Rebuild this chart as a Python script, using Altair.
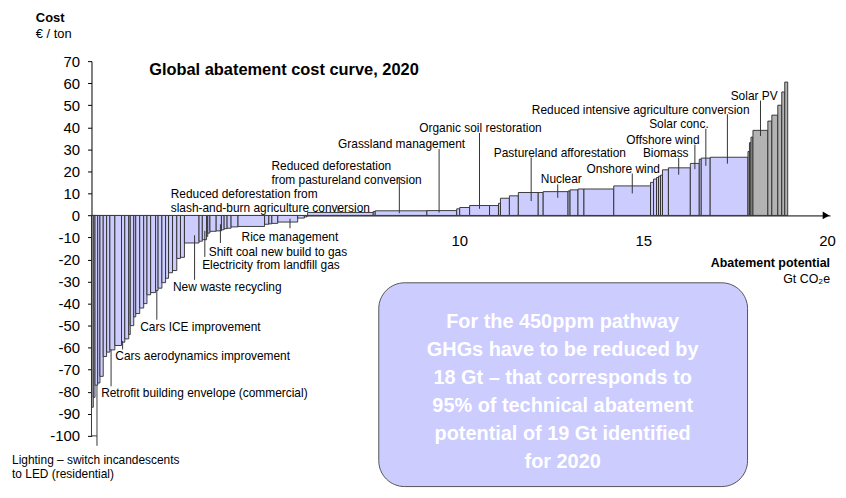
import altair as alt
import numpy as np
import pandas as pd

# ---- Data (Gt CO2e widths, EUR/t costs), left to right ----
neg_width = [0.049, 0.046, 0.073, 0.062, 0.089, 0.092, 0.089, 0.135, 0.181, 0.089,
             0.108, 0.041, 0.095, 0.054, 0.108, 0.108, 0.089, 0.100, 0.135, 0.068,
             0.103, 0.100, 0.081, 0.108, 0.116, 0.100, 0.108, 0.397, 0.089, 0.116,
             0.032, 0.059, 0.170, 0.143, 0.073, 0.081, 0.108, 0.189, 0.722, 0.116,
             0.081, 0.162, 0.541, 0.181, 0.062, 0.027]
neg_cost = [-87, -82.5, -77, -76, -73, -64, -62, -61, -59, -57.5,
            -56, -54, -50, -46, -44.5, -42, -40, -36, -35, -34,
            -33, -30.5, -28.5, -26, -25, -19.5, -19, -12.5, -11.7, -11,
            -9.5, -8, -7.2, -7, -6.5, -6, -5.8, -5.2, -5, -4,
            -3.8, -3.6, -3, -1.2, -0.7, -0.3]
pos_width = [1.784, 0.054, 1.405, 0.811, 0.081, 0.270, 0.541, 0.243, 0.054, 0.243,
             0.243, 0.541, 0.135, 0.676, 0.054, 0.216, 0.162, 0.811, 1.000, 0.081,
             0.081, 0.054, 0.054, 0.054, 0.162, 0.595, 0.243, 0.054, 0.243, 1.027]
pos_cost = [1.35, 1.8, 2.1, 2.2, 3.0, 3.6, 4.5, 4.5, 5.5, 7.8,
            8.9, 10.4, 10.4, 10.8, 11.1, 11.6, 12.0, 12.0, 13.4, 15.0,
            16.5, 17.2, 17.8, 18.3, 20.7, 21.6, 23.6, 25.5, 26.0, 26.4]
pv_width = [0.041, 0.041, 0.054, 0.405, 0.108, 0.162, 0.108, 0.081, 0.081]
pv_cost = [29, 33, 35.5, 38.6, 42.8, 45.5, 50, 56, 60.5]
lighting_width = 0.149
lighting_cost = -100

y_ticks = list(range(-100, 71, 10))
x_ticks = [10, 15, 20]

labels = [
    "Lighting – switch incandescents\nto LED (residential)",
    "Retrofit building envelope (commercial)",
    "Cars aerodynamics improvement",
    "Cars ICE improvement",
    "New waste recycling",
    "Electricity from landfill gas",
    "Shift coal new build to gas",
    "Rice management",
    "Reduced deforestation from\nslash-and-burn agriculture conversion",
    "Reduced deforestation\nfrom pastureland conversion",
    "Grassland management",
    "Organic soil restoration",
    "Pastureland afforestation",
    "Nuclear",
    "Onshore wind",
    "Biomass",
    "Offshore wind",
    "Solar conc.",
    "Reduced intensive agriculture conversion",
    "Solar PV",
]

# ---- Annotation placement (label anchor and leader line, in data units) ----
label_x = [-2.16, 0.262, 0.649, 1.324, 2.216, 3.008, 3.189, 4.081, 2.154, 4.892,
           6.703, 8.911, 10.938, 12.216, 13.459, 14.992, 14.541, 15.162, 11.973, 17.378]
label_y = [-110.8, -80.6, -63.9, -50.7, -32.4, -22.5, -16.5, -9.7, 9.5, 22.5,
           32.4, 39.5, 28.4, 16.3, 21.1, 28.2, 34.2, 41.4, 47.9, 54.2]
leader_x = [0.149, 0.532, 0.846, 1.776, 2.803, 3.081, 3.505, 5.397, 6.703, 8.37,
            9.451, 10.549, 11.954, 12.676, 14.703, 15.965, 16.405, 16.703, 17.289, 18.189]
leader_y1 = [-100, -61, -57, -34, -9, -7, -4, -1.5, 4.1, 17.2,
             30.1, 37.4, 26.3, 14.1, 19.0, 26.1, 32.1, 39.3, 45.9, 52.1]
leader_y2 = [-104.5, -77.5, -60.8, -47.3, -29.2, -18.8, -12.5, -5.8, 1.35, 1.0,
             1.3, 3.0, 6.5, 8.0, 10.0, 18.5, 21.0, 22.5, 23.5, 36.0]

box_text = ("For the 450ppm pathway\nGHGs have to be reduced by\n18 Gt – that corresponds to\n"
            "95% of technical abatement\npotential of 19 Gt identified\nfor 2020")

# ---- Build tables ----
widths = np.array(neg_width + pos_width + pv_width)
costs = neg_cost + pos_cost + pv_cost
groups = ["grey"] + ["lever"] * (len(neg_width) - 1) + ["lever"] * len(pos_width) + ["grey"] * len(pv_width)
x1 = np.cumsum(widths)
x0 = x1 - widths
bars = pd.DataFrame({
    "x0": np.r_[0.0, x0],
    "x1": np.r_[lighting_width, x1],
    "cost": [lighting_cost] + costs,
    "group": ["lighting"] + groups,
    "base": 0.0,
})
ann = pd.DataFrame({"label": labels, "tx": label_x, "ty": label_y,
                    "lx": leader_x, "ly1": leader_y1, "ly2": leader_y2})
one = pd.DataFrame({"a": [0]})

x_scale = alt.Scale(domain=[0, 20.08], nice=False, zero=False)
y_scale = alt.Scale(domain=[-100, 70], nice=False, zero=False)

W, H = 743, 377
y_zero_offset = -H * 100 / 170

x_axis = alt.Axis(values=x_ticks, title=None, grid=False, ticks=False, offset=y_zero_offset,
                  labelPadding=18, labelFontSize=15, labelColor="black", domainColor="black",
                  labelOverlap=False, labelExpr="'' + datum.value")
y_axis = alt.Axis(values=y_ticks, title=None, grid=False, tickSize=4, labelPadding=8,
                  labelFontSize=15, labelColor="black", domainColor="black", tickColor="black",
                  labelOverlap=False, labelExpr="'' + datum.value")

bars_layer = alt.Chart(bars).mark_rect(stroke="#2a2a2a", strokeWidth=0.9).encode(
    x=alt.X("x0:Q", scale=x_scale, axis=x_axis),
    x2="x1",
    y=alt.Y("cost:Q", scale=y_scale, axis=y_axis),
    y2="base",
    fill=alt.Fill("group:N", scale=alt.Scale(domain=["lever", "grey", "lighting"],
                                             range=["#ccccff", "#b3b3b3", "#ffffff"]),
                  legend=None),
)

leaders = alt.Chart(ann).mark_rule(color="#333333", strokeWidth=1).encode(
    x=alt.X("lx:Q", scale=x_scale, axis=x_axis),
    y=alt.Y("ly1:Q", scale=y_scale, axis=y_axis),
    y2="ly2",
)

label_layer = alt.Chart(ann).mark_text(
    align="left", baseline="middle", fontSize=12, lineBreak="\n", lineHeight=14, color="black"
).encode(
    x=alt.X("tx:Q", scale=x_scale, axis=x_axis),
    y=alt.Y("ty:Q", scale=y_scale, axis=y_axis),
    text="label:N",
)

arrow = alt.Chart(pd.DataFrame({"x": [19.97], "y": [0]})).mark_point(
    shape="triangle-right", filled=True, color="black", size=60, opacity=1
).encode(x=alt.X("x:Q", scale=x_scale, axis=x_axis), y=alt.Y("y:Q", scale=y_scale, axis=y_axis))

box = alt.Chart(one).mark_rect(cornerRadius=26, fill="#ccccff", stroke="#555555", strokeWidth=1).encode(
    x=alt.value(289), x2=alt.value(660), y=alt.value(223), y2=alt.value(428))

box_label = alt.Chart(one).mark_text(
    align="center", baseline="middle", fontSize=20, fontWeight="bold", color="white",
    lineBreak="\n", lineHeight=28.3
).encode(x=alt.value(474), y=alt.value(262), text=alt.value(box_text))

def txt(s, x, y, size, bold=False, align="left", baseline="alphabetic"):
    return alt.Chart(one).mark_text(
        align=align, baseline=baseline, fontSize=size,
        fontWeight="bold" if bold else "normal", color="black"
    ).encode(x=alt.value(x), y=alt.value(y), text=alt.value(s))

title = txt("Global abatement cost curve, 2020", 58, 14, 16.5, bold=True)
cost_t = txt("Cost", -56, -39, 13, bold=True)
unit_t = txt("€ / ton", -56, -23, 13)
xt1 = txt("Abatement potential", 743, 203, 12.5, bold=True, align="right", baseline="middle")
xt2 = txt("Gt CO₂e", 743, 219, 12.5, align="right", baseline="middle")

chart = alt.layer(
    bars_layer, leaders, label_layer, arrow, box, box_label,
    title, cost_t, unit_t, xt1, xt2
).properties(
    width=W, height=H,
    autosize=alt.AutoSizeParams(type="none"),
    padding={"left": 84, "top": 52, "right": 8, "bottom": 53},
).configure(font="Liberation Sans").configure_view(strokeWidth=0).configure_axis(labelOverlap=False)

chart.save("out.html", embed_options={"renderer": "svg", "actions": False})
